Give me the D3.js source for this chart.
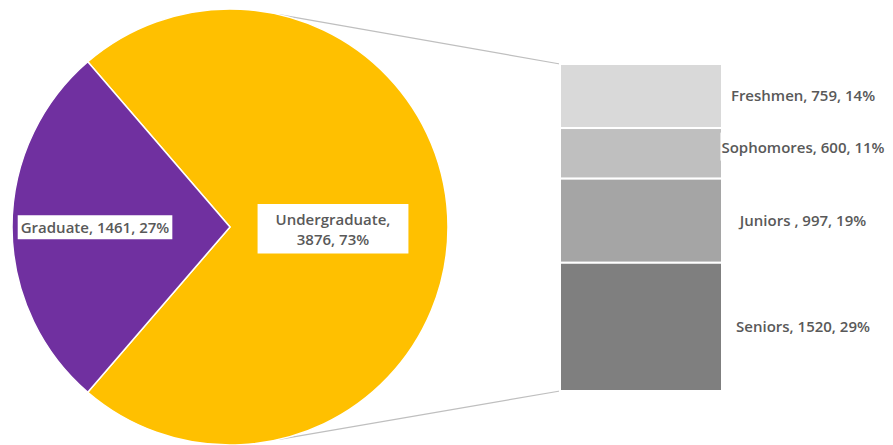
<!DOCTYPE html>
<html>
<head>
<meta charset="utf-8">
<script src="https://cdn.jsdelivr.net/npm/d3@7"></script>
<style>
  body { margin: 0; background: #fff; }
  text { font-family: "Open Sans", Lato, sans-serif; font-weight: 600; fill: #595959; }
</style>
</head>
<body>
<svg id="chart"></svg>
<script>
const mainCategories = ["Undergraduate", "Graduate"];
const mainValues = [3876, 1461];
const mainPercents = ["73%", "27%"];
const mainColors = ["#FFC000", "#7030A0"];

const subCategories = ["Freshmen", "Sophomores", "Juniors ", "Seniors"];
const subValues = [759, 600, 997, 1520];
const subPercents = ["14%", "11%", "19%", "29%"];
const subColors = ["#D9D9D9", "#BFBFBF", "#A5A5A5", "#7F7F7F"];

const width = 893, height = 445;
const cx = 230, cy = 227, radius = 218;
const total = d3.sum(mainValues);

const svg = d3.select("#chart")
    .attr("width", width)
    .attr("height", height);

// graduate slice is centered on the left side
const gradFrac = mainValues[1] / total;
const pie = d3.pie()
    .sort(null)
    .startAngle(-Math.PI / 2 + Math.PI * gradFrac)
    .endAngle(-Math.PI / 2 + Math.PI * gradFrac + 2 * Math.PI);

const arc = d3.arc().innerRadius(0).outerRadius(radius);
const arcs = pie(mainValues);

// stacked bar for the undergraduate breakdown
const barX = 560, barW = 162;
const y = d3.scaleLinear()
    .domain([0, d3.sum(subValues)])
    .range([64, 391]);
const stack = d3.cumsum(subValues);
const segs = subValues.map((v, i) => ({ name: subCategories[i], value: v, pct: subPercents[i], y0: stack[i] - v, y1: stack[i], color: subColors[i] }));

// connector lines
const connAngle = 13 * Math.PI / 180;
const conn = svg.append("g").attr("stroke", "#BFBFBF").attr("stroke-width", 1.2);
conn.append("line")
    .attr("x1", cx + radius * Math.sin(connAngle)).attr("y1", cy - radius * Math.cos(connAngle))
    .attr("x2", barX).attr("y2", y(0));
conn.append("line")
    .attr("x1", cx + radius * Math.sin(connAngle)).attr("y1", cy + radius * Math.cos(connAngle))
    .attr("x2", barX).attr("y2", y(d3.sum(subValues)));

const pieG = svg.append("g").attr("transform", `translate(${cx},${cy})`);
pieG.selectAll("path")
    .data(arcs)
    .enter().append("path")
    .attr("d", arc)
    .attr("fill", (d, i) => mainColors[i])
    .attr("stroke", "#fff")
    .attr("stroke-width", 1.5);

svg.append("g")
    .selectAll("rect")
    .data(segs)
    .enter().append("rect")
    .attr("x", barX)
    .attr("width", barW)
    .attr("y", d => y(d.y0))
    .attr("height", d => y(d.y1) - y(d.y0))
    .attr("fill", d => d.color)
    .attr("stroke", "#fff")
    .attr("stroke-width", 2);

function boxedLabel(x, yy, lines, pad) {
  const g = svg.append("g");
  const bg = g.append("rect").attr("fill", "#fff");
  const t = g.append("text")
      .attr("x", x)
      .attr("y", yy)
      .attr("text-anchor", "middle")
      .style("font-size", "15px");
  lines.forEach((l, i) => {
    t.append("tspan").attr("x", x).attr("dy", i === 0 ? (0.35 - (lines.length - 1) * 0.55) + "em" : "1.3em").text(l);
  });
  if (pad) {
    const b = t.node().getBBox();
    bg.attr("x", b.x - pad[0]).attr("y", b.y - pad[1])
      .attr("width", b.width + 2 * pad[0]).attr("height", b.height + 2 * pad[1]);
  }
}

// pie labels
boxedLabel(95, 228, [`${mainCategories[1]}, ${mainValues[1]}, ${mainPercents[1]}`], [3, 2]);
boxedLabel(333, 228, [`${mainCategories[0]},`, `${mainValues[0]}, ${mainPercents[0]}`], [18, 5]);

// bar labels
segs.forEach((d, i) => {
  const ym = (y(d.y0) + y(d.y1)) / 2 - (i === 1 ? 6 : 0);
  boxedLabel(803, ym, [`${d.name}, ${d.value}, ${d.pct}`], i === 1 ? [1, 4] : null);
});
</script>
</body>
</html>
